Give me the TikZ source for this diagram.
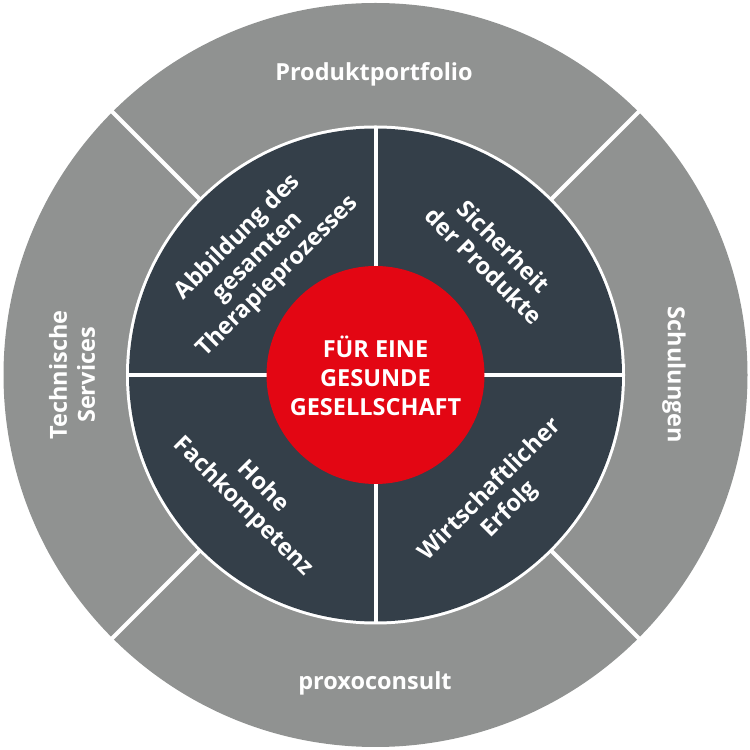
\documentclass[tikz,border=0pt]{standalone}
\usepackage{fontspec}
\setmainfont{Open Sans}
\usetikzlibrary{calc}
\definecolor{ringgray}{HTML}{909291}
\definecolor{darkslate}{HTML}{343F49}
\definecolor{centerred}{HTML}{E30613}
\begin{document}
\begin{tikzpicture}[x=1pt,y=1pt,
  outerlabel/.style={text=white,font=\fontsize{23.5}{28}\selectfont\bfseries,align=center,inner sep=0pt},
  innerlabel/.style={text=white,font=\fontsize{23.5}{28}\selectfont\bfseries,align=center,inner sep=0pt},
  centerlabel/.style={text=white,font=\fontsize{23.5}{29}\selectfont\bfseries,align=center,inner sep=0pt},
  divider/.style={white,line width=4pt}]
\useasboundingbox (0,0) rectangle (750,750);
\coordinate (c) at (375.5,375);
% outer ring
\fill[ringgray] (c) circle[radius=372];
\foreach \a in {45,135,225,315}{
  \draw[divider] ($(c)+(\a:240)$) -- ($(c)+(\a:380)$);
}
% inner dark disc
\fill[white] (c) circle[radius=249.5];
\fill[darkslate] (c) circle[radius=246.5];
\draw[divider] ($(c)+(-247,0)$) -- ($(c)+(247,0)$);
\draw[divider] ($(c)+(0,-247)$) -- ($(c)+(0,247)$);
% center
\fill[centerred] (c) circle[radius=109];
\node[centerlabel] (mid) at (375.5,374) {FÜR EINE\\GESUNDE\\GESELLSCHAFT};
% outer labels
\node[outerlabel] (top) at (374,676) {Produktportfolio};
\node[outerlabel] (bottom) at (375,67) {proxoconsult};
\node[outerlabel,rotate=90] (left) at (72,375) {Technische\\Services};
\node[outerlabel,rotate=-90] (right) at (674,375) {Schulungen};
% inner labels
\node[innerlabel,rotate=45] (q1) at (258,493) {Abbildung des\\gesamten\\Therapieprozesses};
\node[innerlabel,rotate=-45] (q2) at (494,494) {Sicherheit\\der Produkte};
\node[innerlabel,rotate=-45] (q3) at (253,253) {Hohe\\Fachkompetenz};
\node[innerlabel,rotate=45] (q4) at (500,250) {Wirtschaftlicher\\Erfolg};
\end{tikzpicture}
\end{document}
